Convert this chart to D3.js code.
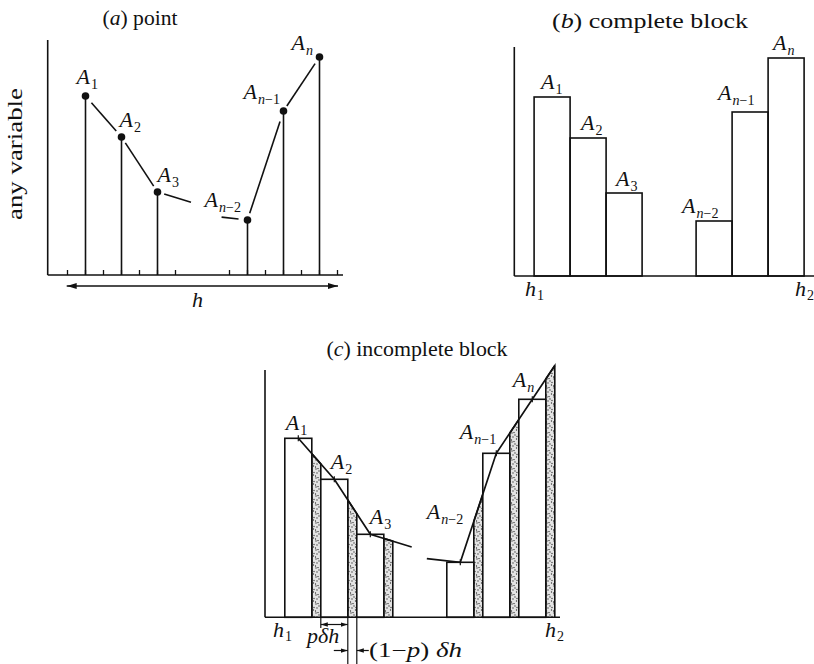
<!DOCTYPE html>
<html>
<head>
<meta charset="utf-8">
<script src="https://cdn.jsdelivr.net/npm/d3@7"></script>
<style>
  body { margin: 0; background: #fff; }
  svg text { fill: #111; }
</style>
</head>
<body>
<div id="chart"></div>
<script>
const width = 814;
const height = 664;

// positions along h (in units of one block width δh) and the values A_i
const hIdx = [1, 2, 3, 5.5, 6.5, 7.5];
const values = [179, 138, 83, 55, 164, 218];
const subs = ["1", "2", "3", "n−2", "n−1", "n"];
// implied neighbours drawn only as short dangling line pieces
const ghostAfter = { h: 4, value: 72 };   // A_4
const ghostBefore = { h: 4.5, value: 59 }; // A_{n-3}
const tickIdx = [0.5, 1, 1.5, 2, 2.5, 3, 3.5, 5, 5.5, 6, 6.5, 7, 7.5, 8];
const p = 0.75;

const ink = "#111";
const serif = "'Liberation Serif', 'Times New Roman', Times, 'Nimbus Roman', serif";

const svg = d3.select("#chart")
  .append("svg")
  .attr("width", width)
  .attr("height", height)
  .attr("font-family", serif)
  .style("font-family", serif);

const defs = svg.append("defs");
defs.append("marker")
  .attr("id", "arr")
  .attr("viewBox", "0 0 10 6")
  .attr("refX", 10).attr("refY", 3)
  .attr("markerWidth", 10).attr("markerHeight", 6)
  .attr("markerUnits", "userSpaceOnUse")
  .attr("orient", "auto-start-reverse")
  .append("path").attr("d", "M0,0 L10,3 L0,6 Z").attr("fill", ink);
defs.append("marker")
  .attr("id", "arrS")
  .attr("viewBox", "0 0 8 5")
  .attr("refX", 8).attr("refY", 2.5)
  .attr("markerWidth", 7).attr("markerHeight", 5)
  .attr("markerUnits", "userSpaceOnUse")
  .attr("orient", "auto-start-reverse")
  .append("path").attr("d", "M0,0 L8,2.5 L0,5 Z").attr("fill", ink);

// stipple for the (1-p)δh strips
const pat = defs.append("pattern")
  .attr("id", "stipple")
  .attr("width", 7).attr("height", 9)
  .attr("patternUnits", "userSpaceOnUse");
pat.append("rect").attr("width", 7).attr("height", 9).attr("fill", "#e4e4e4");
[[1, 1], [4, 3], [2, 5], [5.5, 7], [0.5, 8], [3, 0.5], [6, 4.5]].forEach(d => {
  pat.append("circle").attr("cx", d[0]).attr("cy", d[1]).attr("r", 0.65).attr("fill", "#333");
});

function label(g, x, y, sub, size = 22) {
  const t = g.append("text").attr("x", x).attr("y", y).attr("font-size", size);
  t.append("tspan").attr("font-style", "italic").text("A");
  const parts = sub.split(/(n)/).filter(s => s.length);
  parts.forEach((s, i) => {
    const ts = t.append("tspan").attr("font-size", size * 0.64);
    if (i === 0) ts.attr("dy", 5).attr("dx", 1);
    if (s === "n") ts.attr("font-style", "italic");
    ts.text(s);
  });
}

function title(x, y, letter, rest, len) {
  const t = svg.append("text").attr("x", x).attr("y", y)
    .attr("font-size", 21).attr("text-anchor", "middle")
    .attr("textLength", len).attr("lengthAdjust", "spacingAndGlyphs");
  t.append("tspan").text("(");
  t.append("tspan").attr("font-style", "italic").text(letter);
  t.append("tspan").text(") " + rest);
}

function italic(x, y, s, sub) {
  const t = svg.append("text").attr("x", x).attr("y", y).attr("font-size", 22);
  t.append("tspan").attr("font-style", "italic").text(s);
  if (sub) t.append("tspan").attr("font-size", 14).attr("dy", 4).attr("dx", 1).text(sub);
  return t;
}

// ---------- (a) point ----------
{
  const ax = 47.7, base = 275, top = 40;
  const x = d3.scaleLinear().domain([0, 1]).range([ax + 1.8, ax + 37.8]);
  const y = d3.scaleLinear().domain([0, 1]).range([base, base - 1]);
  const g = svg.append("g");

  g.append("line").attr("x1", ax).attr("x2", ax).attr("y1", top).attr("y2", base)
    .attr("stroke", ink).attr("stroke-width", 1.6);
  g.append("line").attr("x1", ax).attr("x2", 343).attr("y1", base).attr("y2", base)
    .attr("stroke", ink).attr("stroke-width", 1.6);
  g.selectAll(".tick").data(tickIdx).enter().append("line")
    .attr("x1", d => x(d)).attr("x2", d => x(d))
    .attr("y1", base).attr("y2", base - 5)
    .attr("stroke", ink).attr("stroke-width", 1.3);

  const pts = hIdx.map((h, i) => ({ x: x(h), y: y(values[i]) }));
  g.selectAll(".stem").data(pts).enter().append("line")
    .attr("x1", d => d.x).attr("x2", d => d.x)
    .attr("y1", d => d.y).attr("y2", base)
    .attr("stroke", ink).attr("stroke-width", 1.6);

  // connecting pieces, trimmed near the dots
  function seg(a, b, gapA, gapB) {
    const dx = b.x - a.x, dy = b.y - a.y, L = Math.hypot(dx, dy);
    return { x1: a.x + dx * gapA / L, y1: a.y + dy * gapA / L,
             x2: b.x - dx * gapB / L, y2: b.y - dy * gapB / L };
  }
  const gA = { x: x(ghostAfter.h), y: y(ghostAfter.value) };
  const gB = { x: x(ghostBefore.h), y: y(ghostBefore.value) };
  const lerp = (a, b, t) => ({ x: a.x + (b.x - a.x) * t, y: a.y + (b.y - a.y) * t });
  const segs = [
    seg(pts[0], pts[1], 9, 8),
    seg(pts[1], pts[2], 7, 7),
    seg(pts[2], lerp(pts[2], gA, 0.93), 7, 0),
    seg(lerp(gB, pts[3], 0.28), pts[3], 0, 9),
    seg(pts[3], pts[4], 7, 11),
    seg(pts[4], pts[5], 6, 8)
  ];
  g.selectAll(".seg").data(segs).enter().append("line")
    .attr("x1", d => d.x1).attr("y1", d => d.y1)
    .attr("x2", d => d.x2).attr("y2", d => d.y2)
    .attr("stroke", ink).attr("stroke-width", 1.6);

  g.selectAll(".dot").data(pts).enter().append("circle")
    .attr("cx", d => d.x).attr("cy", d => d.y).attr("r", 3.8).attr("fill", ink);

  const off = [[-9, -12], [-2, -10], [0, -10], [-43, -13], [-40, -12], [-28, -7]];
  pts.forEach((d, i) => label(g, d.x + off[i][0], d.y + off[i][1], subs[i]));

  g.append("line").attr("x1", 66.7).attr("x2", 338).attr("y1", 286).attr("y2", 286)
    .attr("stroke", ink).attr("stroke-width", 1.3)
    .attr("marker-start", "url(#arr)").attr("marker-end", "url(#arr)");
  italic(192, 307, "h");

  title(140, 25, "a", "point", 75);
  svg.append("text")
    .attr("transform", "translate(22,154) rotate(-90)")
    .attr("text-anchor", "middle").attr("font-size", 22)
    .attr("textLength", 132).attr("lengthAdjust", "spacingAndGlyphs")
    .text("any variable");
}

// ---------- (b) complete block ----------
{
  const ax = 514.3, base = 276, top = 47;
  const x = d3.scaleLinear().domain([0, 1]).range([ax - 16.2, ax + 19.8]);
  const y = d3.scaleLinear().domain([0, 1]).range([base, base - 1]);
  const bw = x(1) - x(0);
  const g = svg.append("g");

  g.selectAll(".bar").data(hIdx).enter().append("rect")
    .attr("x", d => x(d)).attr("width", bw)
    .attr("y", (d, i) => y(values[i]))
    .attr("height", (d, i) => base - y(values[i]))
    .attr("fill", "none").attr("stroke", ink).attr("stroke-width", 1.6);

  g.append("line").attr("x1", ax).attr("x2", ax).attr("y1", top).attr("y2", base)
    .attr("stroke", ink).attr("stroke-width", 1.6);
  g.append("line").attr("x1", ax).attr("x2", width).attr("y1", base).attr("y2", base)
    .attr("stroke", ink).attr("stroke-width", 1.6);

  const off = [[7, -8], [11, -8], [10, -7], [-14, -8], [-14, -12], [5, -8]];
  hIdx.forEach((h, i) => label(g, x(h) + off[i][0], y(values[i]) + off[i][1], subs[i]));

  italic(525, 296, "h", "1");
  italic(795, 296, "h", "2");
  title(650, 28, "b", "complete block", 196);
}

// ---------- (c) incomplete block ----------
{
  const ax = 265, base = 617.3, top = 370;
  const x = d3.scaleLinear().domain([0, 1]).range([ax - 16.2, ax + 19.8]);
  const y = d3.scaleLinear().domain([0, 1]).range([base, base - 1]);
  const bw = x(1) - x(0);
  const pw = p * bw;
  const vx = h => x(h) + pw / 2;
  const g = svg.append("g");

  // trend line groups (left run, right run) with their implied neighbours
  const left = [...hIdx.slice(0, 3).map((h, i) => ({ h, v: values[i] })), { h: ghostAfter.h, v: ghostAfter.value }];
  const right = [{ h: ghostBefore.h, v: ghostBefore.value }, ...hIdx.slice(3).map((h, i) => ({ h, v: values[i + 3] }))];
  const toPt = d => ({ x: vx(d.h), y: y(d.v) });
  const L = left.map(toPt), R = right.map(toPt);
  function along(P, px) {
    let k = 0;
    while (k < P.length - 2 && px > P[k + 1].x) k++;
    const a = P[k], b = P[k + 1];
    return a.y + (b.y - a.y) * (px - a.x) / (b.x - a.x);
  }
  const ext = (a, b, t) => ({ x: a.x + (b.x - a.x) * t, y: a.y + (b.y - a.y) * t });

  // stippled (1-p)δh strips, topped by the line
  hIdx.forEach((h, i) => {
    const P = i < 3 ? L : R;
    const x0 = x(h) + pw, x1 = x(h) + bw;
    g.append("path")
      .attr("d", `M${x0},${base} L${x0},${along(P, x0)} L${x1},${along(P, x1)} L${x1},${base}`)
      .attr("fill", "url(#stipple)").attr("stroke", ink).attr("stroke-width", 1.6);
  });

  g.selectAll(".bar").data(hIdx).enter().append("rect")
    .attr("x", d => x(d)).attr("width", pw)
    .attr("y", (d, i) => y(values[i]))
    .attr("height", (d, i) => base - y(values[i]))
    .attr("fill", "#fff").attr("stroke", ink).attr("stroke-width", 1.6);

  const line = d3.line().x(d => d.x).y(d => d.y);
  const lastR = ext(R[2], R[3], 1 + (x(hIdx[5]) + bw - R[3].x) / (R[3].x - R[2].x));
  g.append("path").attr("d", line([L[0], L[1], L[2], ext(L[2], L[3], 1.15)]))
    .attr("fill", "none").attr("stroke", ink).attr("stroke-width", 1.7);
  g.append("path").attr("d", line([ext(R[0], R[1], 0.07), R[1], R[2], R[3], lastR]))
    .attr("fill", "none").attr("stroke", ink).attr("stroke-width", 1.7);

  const verts = hIdx.map((h, i) => ({ x: vx(h), y: y(values[i]) }));
  g.selectAll(".vt").data(verts).enter().append("line")
    .attr("x1", d => d.x).attr("x2", d => d.x)
    .attr("y1", d => d.y - 3).attr("y2", d => d.y + 3)
    .attr("stroke", ink).attr("stroke-width", 1.2);

  g.append("line").attr("x1", ax).attr("x2", ax).attr("y1", top).attr("y2", base)
    .attr("stroke", ink).attr("stroke-width", 1.6);
  g.append("line").attr("x1", ax).attr("x2", 560).attr("y1", base).attr("y2", base)
    .attr("stroke", ink).attr("stroke-width", 1.6);

  const off = [[1, -8], [10, -10], [13, -10], [-20, -43], [-23, -14], [-6, -12]];
  hIdx.forEach((h, i) => label(g, x(h) + off[i][0], y(values[i]) + off[i][1], subs[i]));

  italic(273, 637, "h", "1");
  italic(545, 637, "h", "2");

  // pδh and (1-p)δh dimension marks under block 2
  const b0 = x(hIdx[1]), b1 = b0 + pw, b2 = x(hIdx[1]) + bw;
  g.append("line").attr("x1", b0).attr("x2", b0).attr("y1", base).attr("y2", 628)
    .attr("stroke", ink).attr("stroke-width", 1.2);
  [b1, b2].forEach(v => g.append("line").attr("x1", v).attr("x2", v)
    .attr("y1", base).attr("y2", height).attr("stroke", ink).attr("stroke-width", 1.2));
  g.append("line").attr("x1", b0).attr("x2", b1).attr("y1", 624.5).attr("y2", 624.5)
    .attr("stroke", ink).attr("stroke-width", 1.2)
    .attr("marker-start", "url(#arrS)").attr("marker-end", "url(#arrS)");
  g.append("line").attr("x1", b1 - 14).attr("x2", b1).attr("y1", 650.5).attr("y2", 650.5)
    .attr("stroke", ink).attr("stroke-width", 1.2).attr("marker-end", "url(#arrS)");
  g.append("line").attr("x1", b2 + 12).attr("x2", b2).attr("y1", 650.5).attr("y2", 650.5)
    .attr("stroke", ink).attr("stroke-width", 1.2).attr("marker-end", "url(#arrS)");

  svg.append("text").attr("x", 307).attr("y", 643).attr("font-size", 22)
    .attr("font-style", "italic").text("pδh");
  const t = svg.append("text").attr("x", 369).attr("y", 657).attr("font-size", 20)
    .attr("textLength", 93).attr("lengthAdjust", "spacingAndGlyphs");
  t.append("tspan").text("(1−");
  t.append("tspan").attr("font-style", "italic").text("p");
  t.append("tspan").text(") ");
  t.append("tspan").attr("font-style", "italic").text("δh");

  title(417, 356, "c", "incomplete block", 181);
}
</script>
</body>
</html>
